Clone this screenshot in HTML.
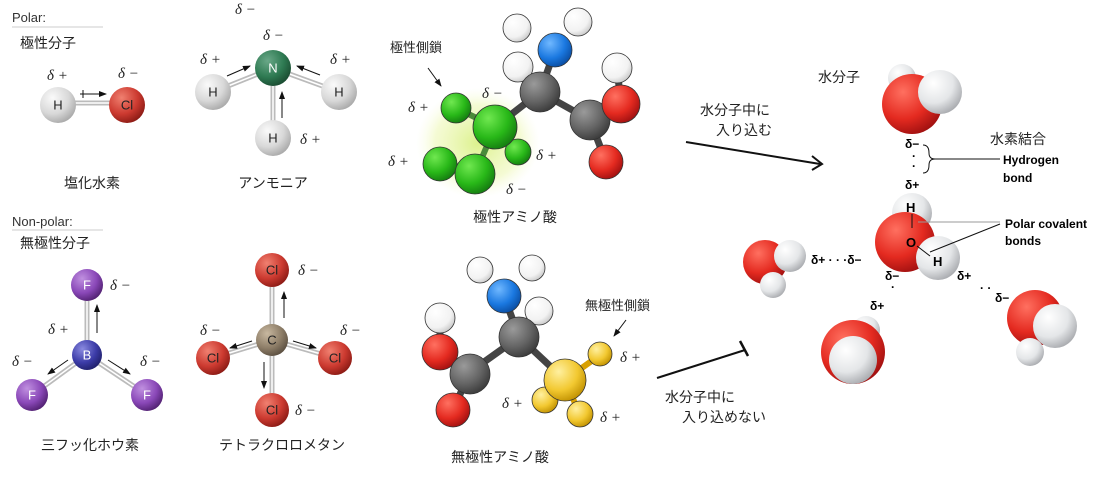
<!DOCTYPE html>
<html><head><meta charset="utf-8"><style>
html,body{margin:0;padding:0;background:#fff;width:1118px;height:484px;overflow:hidden}
svg text{font-family:"Liberation Sans","Noto Sans CJK JP",sans-serif}
.jp{font-size:14px;fill:#222}
.at{font-size:13px;fill:#222;text-anchor:middle;dominant-baseline:central}
.d{font-family:"Liberation Serif",serif !important;font-style:italic;font-size:15px;fill:#222}
.b{font-size:12px;font-weight:bold;fill:#000}
.aa circle{stroke:#333;stroke-width:0.8}
</style></head><body>
<svg width="1118" height="484" viewBox="0 0 1118 484" xmlns="http://www.w3.org/2000/svg">
<defs>
<radialGradient id="gH" cx="35%" cy="30%" r="75%"><stop offset="0" stop-color="#fafafa"/><stop offset="0.6" stop-color="#d8d8d8"/><stop offset="1" stop-color="#a8a8a8"/></radialGradient>
<radialGradient id="gR" cx="35%" cy="30%" r="75%"><stop offset="0" stop-color="#f08070"/><stop offset="0.6" stop-color="#cc3a30"/><stop offset="1" stop-color="#8a1a14"/></radialGradient>
<radialGradient id="gG" cx="35%" cy="30%" r="75%"><stop offset="0" stop-color="#6aa888"/><stop offset="0.6" stop-color="#2e7a52"/><stop offset="1" stop-color="#1a4a30"/></radialGradient>
<radialGradient id="gB" cx="35%" cy="30%" r="75%"><stop offset="0" stop-color="#8a8ae0"/><stop offset="0.6" stop-color="#3c3ca8"/><stop offset="1" stop-color="#20206a"/></radialGradient>
<radialGradient id="gP" cx="35%" cy="30%" r="75%"><stop offset="0" stop-color="#c090e0"/><stop offset="0.6" stop-color="#8a48b8"/><stop offset="1" stop-color="#502070"/></radialGradient>
<radialGradient id="gC" cx="35%" cy="30%" r="75%"><stop offset="0" stop-color="#c8b8a0"/><stop offset="0.6" stop-color="#8e7e68"/><stop offset="1" stop-color="#5a4e40"/></radialGradient>
<radialGradient id="gW" cx="35%" cy="30%" r="75%"><stop offset="0" stop-color="#ffffff"/><stop offset="0.7" stop-color="#f2f2f2"/><stop offset="1" stop-color="#c8c8c8"/></radialGradient>
<radialGradient id="gWW" cx="35%" cy="30%" r="75%"><stop offset="0" stop-color="#ffffff"/><stop offset="0.6" stop-color="#e4e6e8"/><stop offset="1" stop-color="#a8aaae"/></radialGradient>
<radialGradient id="gK" cx="35%" cy="30%" r="75%"><stop offset="0" stop-color="#9a9a9a"/><stop offset="0.6" stop-color="#646464"/><stop offset="1" stop-color="#3a3a3a"/></radialGradient>
<radialGradient id="gBl" cx="35%" cy="30%" r="75%"><stop offset="0" stop-color="#70b8ff"/><stop offset="0.6" stop-color="#1a78e0"/><stop offset="1" stop-color="#0a4ca0"/></radialGradient>
<radialGradient id="gY" cx="35%" cy="30%" r="75%"><stop offset="0" stop-color="#fff0a0"/><stop offset="0.6" stop-color="#f2c830"/><stop offset="1" stop-color="#c09000"/></radialGradient>
<radialGradient id="gLG" cx="35%" cy="30%" r="75%"><stop offset="0" stop-color="#70e850"/><stop offset="0.6" stop-color="#28b818"/><stop offset="1" stop-color="#147a10"/></radialGradient>
<radialGradient id="gRR" cx="35%" cy="30%" r="75%"><stop offset="0" stop-color="#ff7060"/><stop offset="0.6" stop-color="#e42a20"/><stop offset="1" stop-color="#a01010"/></radialGradient>
<radialGradient id="glow" cx="50%" cy="50%" r="50%"><stop offset="0" stop-color="#d8f080" stop-opacity="0.9"/><stop offset="0.7" stop-color="#eef8b8" stop-opacity="0.6"/><stop offset="1" stop-color="#f8fce0" stop-opacity="0"/></radialGradient>
<marker id="ah" markerWidth="8" markerHeight="8" refX="7" refY="4" orient="auto"><path d="M0,1 L8,4 L0,7z" fill="#111"/></marker>
</defs>

<!-- Polar heading -->
<text x="12" y="22" style="font-size:13px;fill:#333">Polar:</text>
<line x1="12" y1="27" x2="103" y2="27" stroke="#ccc"/>
<text x="20" y="48" class="jp">極性分子</text>

<!-- HCl -->
<line x1="60" y1="103" x2="125" y2="103" stroke="#bbb" stroke-width="5"/>
<line x1="60" y1="103" x2="125" y2="103" stroke="#fff" stroke-width="1.5"/>
<circle cx="58" cy="105" r="18" fill="url(#gH)"/><text x="58" y="105" class="at">H</text>
<circle cx="127" cy="105" r="18" fill="url(#gR)"/><text x="127" y="105" class="at">Cl</text>
<line x1="80" y1="94" x2="106" y2="94" stroke="#111" marker-end="url(#ah)"/>
<line x1="83" y1="90" x2="83" y2="98" stroke="#111"/>
<text x="47" y="80" class="d">δ +</text><text x="118" y="78" class="d">δ −</text>
<text x="92" y="188" class="jp" text-anchor="middle">塩化水素</text>

<!-- NH3 -->
<g stroke="#bbb" stroke-width="5"><line x1="213" y1="92" x2="273" y2="68"/><line x1="339" y1="92" x2="273" y2="68"/><line x1="273" y1="138" x2="273" y2="68"/></g>
<g stroke="#fff" stroke-width="1.5"><line x1="213" y1="92" x2="273" y2="68"/><line x1="339" y1="92" x2="273" y2="68"/><line x1="273" y1="138" x2="273" y2="68"/></g>
<circle cx="273" cy="68" r="18" fill="url(#gG)"/><text x="273" y="68" class="at" style="fill:#fff">N</text>
<circle cx="213" cy="92" r="18" fill="url(#gH)"/><text x="213" y="92" class="at">H</text>
<circle cx="339" cy="92" r="18" fill="url(#gH)"/><text x="339" y="92" class="at">H</text>
<circle cx="273" cy="138" r="18" fill="url(#gH)"/><text x="273" y="138" class="at">H</text>
<line x1="227" y1="76" x2="250" y2="66" stroke="#111" marker-end="url(#ah)"/>
<line x1="320" y1="75" x2="297" y2="66" stroke="#111" marker-end="url(#ah)"/>
<line x1="282" y1="118" x2="282" y2="92" stroke="#111" marker-end="url(#ah)"/>
<text x="235" y="14" class="d">δ −</text><text x="263" y="40" class="d">δ −</text>
<text x="200" y="64" class="d">δ +</text><text x="330" y="64" class="d">δ +</text><text x="300" y="144" class="d">δ +</text>
<text x="273" y="188" class="jp" text-anchor="middle">アンモニア</text>

<!-- Non-polar heading -->
<text x="12" y="226" style="font-size:13px;fill:#333">Non-polar:</text>
<line x1="12" y1="230" x2="103" y2="230" stroke="#ccc"/>
<text x="20" y="248" class="jp">無極性分子</text>

<!-- BF3 -->
<g stroke="#bbb" stroke-width="5"><line x1="87" y1="355" x2="87" y2="285"/><line x1="87" y1="355" x2="32" y2="395"/><line x1="87" y1="355" x2="147" y2="395"/></g>
<g stroke="#fff" stroke-width="1.5"><line x1="87" y1="355" x2="87" y2="285"/><line x1="87" y1="355" x2="32" y2="395"/><line x1="87" y1="355" x2="147" y2="395"/></g>
<circle cx="87" cy="285" r="16" fill="url(#gP)"/><text x="87" y="285" class="at" style="fill:#fff">F</text>
<circle cx="32" cy="395" r="16" fill="url(#gP)"/><text x="32" y="395" class="at" style="fill:#fff">F</text>
<circle cx="147" cy="395" r="16" fill="url(#gP)"/><text x="147" y="395" class="at" style="fill:#fff">F</text>
<circle cx="87" cy="355" r="15" fill="url(#gB)"/><text x="87" y="355" class="at" style="fill:#fff">B</text>
<line x1="97" y1="333" x2="97" y2="305" stroke="#111" marker-end="url(#ah)"/>
<line x1="68" y1="360" x2="48" y2="374" stroke="#111" marker-end="url(#ah)"/>
<line x1="108" y1="360" x2="130" y2="374" stroke="#111" marker-end="url(#ah)"/>
<text x="110" y="290" class="d">δ −</text><text x="48" y="334" class="d">δ +</text>
<text x="12" y="366" class="d">δ −</text><text x="140" y="366" class="d">δ −</text>
<text x="90" y="450" class="jp" text-anchor="middle">三フッ化ホウ素</text>

<!-- CCl4 -->
<g stroke="#bbb" stroke-width="5"><line x1="272" y1="340" x2="272" y2="270"/><line x1="272" y1="340" x2="213" y2="358"/><line x1="272" y1="340" x2="335" y2="358"/><line x1="272" y1="340" x2="272" y2="410"/></g>
<g stroke="#fff" stroke-width="1.5"><line x1="272" y1="340" x2="272" y2="270"/><line x1="272" y1="340" x2="213" y2="358"/><line x1="272" y1="340" x2="335" y2="358"/><line x1="272" y1="340" x2="272" y2="410"/></g>
<circle cx="272" cy="270" r="17" fill="url(#gR)"/><text x="272" y="270" class="at">Cl</text>
<circle cx="213" cy="358" r="17" fill="url(#gR)"/><text x="213" y="358" class="at">Cl</text>
<circle cx="335" cy="358" r="17" fill="url(#gR)"/><text x="335" y="358" class="at">Cl</text>
<circle cx="272" cy="410" r="17" fill="url(#gR)"/><text x="272" y="410" class="at">Cl</text>
<circle cx="272" cy="340" r="16" fill="url(#gC)"/><text x="272" y="340" class="at">C</text>
<line x1="284" y1="318" x2="284" y2="292" stroke="#111" marker-end="url(#ah)"/>
<line x1="252" y1="341" x2="230" y2="348" stroke="#111" marker-end="url(#ah)"/>
<line x1="293" y1="341" x2="316" y2="348" stroke="#111" marker-end="url(#ah)"/>
<line x1="264" y1="362" x2="264" y2="388" stroke="#111" marker-end="url(#ah)"/>
<text x="298" y="275" class="d">δ −</text><text x="200" y="335" class="d">δ −</text>
<text x="340" y="335" class="d">δ −</text><text x="295" y="415" class="d">δ −</text>
<text x="282" y="450" class="jp" text-anchor="middle">テトラクロロメタン</text>

<!-- Polar amino acid -->
<ellipse cx="478" cy="143" rx="62" ry="55" fill="url(#glow)"/>
<g stroke="#444" stroke-width="7"><line x1="540" y1="92" x2="555" y2="50"/><line x1="540" y1="92" x2="590" y2="120"/><line x1="540" y1="92" x2="495" y2="127"/><line x1="590" y1="120" x2="621" y2="104"/><line x1="590" y1="120" x2="606" y2="162"/><line x1="621" y1="104" x2="617" y2="68"/></g>
<g stroke="#4a8a3a" stroke-width="6"><line x1="495" y1="127" x2="456" y2="108"/><line x1="495" y1="127" x2="475" y2="174"/><line x1="475" y1="174" x2="440" y2="164"/><line x1="495" y1="127" x2="518" y2="152"/></g>
<g class="aa">
<circle cx="517" cy="28" r="14" fill="url(#gW)"/>
<circle cx="578" cy="22" r="14" fill="url(#gW)"/>
<circle cx="555" cy="50" r="17" fill="url(#gBl)"/>
<circle cx="518" cy="67" r="15" fill="url(#gW)"/>
<circle cx="540" cy="92" r="20" fill="url(#gK)"/>
<circle cx="617" cy="68" r="15" fill="url(#gW)"/>
<circle cx="590" cy="120" r="20" fill="url(#gK)"/>
<circle cx="621" cy="104" r="19" fill="url(#gRR)"/>
<circle cx="606" cy="162" r="17" fill="url(#gRR)"/>
<circle cx="518" cy="152" r="13" fill="url(#gLG)"/>
<circle cx="456" cy="108" r="15" fill="url(#gLG)"/>
<circle cx="495" cy="127" r="22" fill="url(#gLG)"/>
<circle cx="440" cy="164" r="17" fill="url(#gLG)"/>
<circle cx="475" cy="174" r="20" fill="url(#gLG)"/>
</g>
<text x="390" y="52" class="jp" style="font-size:13px">極性側鎖</text>
<line x1="428" y1="68" x2="441" y2="86" stroke="#111" marker-end="url(#ah)"/>
<text x="408" y="112" class="d">δ +</text><text x="482" y="98" class="d">δ −</text>
<text x="388" y="166" class="d">δ +</text><text x="536" y="160" class="d">δ +</text><text x="506" y="194" class="d">δ −</text>
<text x="515" y="222" class="jp" text-anchor="middle">極性アミノ酸</text>

<!-- Nonpolar amino acid -->
<g stroke="#444" stroke-width="7"><line x1="519" y1="337" x2="504" y2="296"/><line x1="519" y1="337" x2="470" y2="372"/><line x1="519" y1="337" x2="565" y2="380"/><line x1="470" y1="372" x2="440" y2="352"/><line x1="470" y1="372" x2="453" y2="410"/><line x1="440" y1="352" x2="440" y2="315"/></g>
<g stroke="#d8a000" stroke-width="6"><line x1="565" y1="380" x2="600" y2="355"/><line x1="565" y1="380" x2="580" y2="415"/><line x1="565" y1="380" x2="545" y2="400"/></g>
<g class="aa">
<circle cx="480" cy="270" r="13" fill="url(#gW)"/>
<circle cx="532" cy="268" r="13" fill="url(#gW)"/>
<circle cx="504" cy="296" r="17" fill="url(#gBl)"/>
<circle cx="539" cy="311" r="14" fill="url(#gW)"/>
<circle cx="440" cy="318" r="15" fill="url(#gW)"/>
<circle cx="519" cy="337" r="20" fill="url(#gK)"/>
<circle cx="440" cy="352" r="18" fill="url(#gRR)"/>
<circle cx="470" cy="374" r="20" fill="url(#gK)"/>
<circle cx="453" cy="410" r="17" fill="url(#gRR)"/>
<circle cx="545" cy="400" r="13" fill="url(#gY)"/>
<circle cx="600" cy="354" r="12" fill="url(#gY)"/>
<circle cx="565" cy="380" r="21" fill="url(#gY)"/>
<circle cx="580" cy="414" r="13" fill="url(#gY)"/>
</g>
<text x="585" y="310" class="jp" style="font-size:13px">無極性側鎖</text>
<line x1="626" y1="320" x2="614" y2="336" stroke="#111" marker-end="url(#ah)"/>
<text x="620" y="362" class="d">δ +</text><text x="502" y="408" class="d">δ +</text><text x="600" y="422" class="d">δ +</text>
<text x="500" y="462" class="jp" text-anchor="middle">無極性アミノ酸</text>

<!-- arrows -->
<text x="700" y="115" class="jp">水分子中に</text><text x="716" y="135" class="jp">入り込む</text>
<line x1="686" y1="142" x2="820" y2="164" stroke="#111" stroke-width="2"/>
<path d="M812,156 L822,164 L812,170" fill="none" stroke="#111" stroke-width="2"/>
<line x1="657" y1="378" x2="745" y2="350" stroke="#111" stroke-width="2"/>
<line x1="740" y1="341" x2="748" y2="356" stroke="#111" stroke-width="2.5"/>
<text x="665" y="402" class="jp">水分子中に</text><text x="682" y="422" class="jp">入り込めない</text>

<!-- Water -->
<text x="818" y="82" class="jp">水分子</text>
<circle cx="902" cy="78" r="14" fill="url(#gWW)"/>
<circle cx="912" cy="104" r="30" fill="url(#gRR)"/>
<circle cx="940" cy="92" r="22" fill="url(#gWW)"/>
<text x="905" y="148" class="b">δ−</text>
<text x="912" y="160" class="b">·</text><text x="912" y="170" class="b">·</text>
<path d="M923,145 q6,0 6,8 q0,6 6,6 q-6,0 -6,6 q0,8 -6,8" fill="none" stroke="#111"/>
<line x1="935" y1="159" x2="1000" y2="159" stroke="#111"/>
<text x="1003" y="164" class="b">Hydrogen</text><text x="1003" y="182" class="b">bond</text>
<text x="905" y="189" class="b">δ+</text>
<text x="990" y="144" class="jp">水素結合</text>

<circle cx="912" cy="213" r="20" fill="url(#gWW)"/>
<circle cx="905" cy="242" r="30" fill="url(#gRR)"/>
<circle cx="938" cy="258" r="22" fill="url(#gWW)"/>
<text x="906" y="212" class="b" style="font-size:13px">H</text>
<line x1="912" y1="214" x2="912" y2="228" stroke="#111"/>
<text x="906" y="247" class="b" style="font-size:13px">O</text>
<line x1="917" y1="246" x2="930" y2="256" stroke="#111"/>
<text x="933" y="266" class="b" style="font-size:13px">H</text>
<line x1="918" y1="222" x2="1000" y2="222" stroke="#999"/>
<line x1="930" y1="252" x2="1000" y2="224" stroke="#111"/>
<text x="1005" y="228" class="b">Polar covalent</text><text x="1005" y="245" class="b">bonds</text>

<circle cx="765" cy="262" r="22" fill="url(#gRR)"/>
<circle cx="790" cy="256" r="16" fill="url(#gWW)"/>
<circle cx="773" cy="285" r="13" fill="url(#gWW)"/>
<text x="811" y="264" class="b">δ+ · · ·δ−</text>

<circle cx="866" cy="330" r="14" fill="url(#gWW)"/>
<circle cx="853" cy="352" r="32" fill="url(#gRR)"/>
<circle cx="853" cy="360" r="24" fill="url(#gWW)"/>
<text x="885" y="280" class="b">δ−</text><text x="891" y="291" class="b">·</text>
<text x="870" y="310" class="b">δ+</text>

<circle cx="1035" cy="318" r="28" fill="url(#gRR)"/>
<circle cx="1055" cy="326" r="22" fill="url(#gWW)"/>
<circle cx="1030" cy="352" r="14" fill="url(#gWW)"/>
<text x="957" y="280" class="b">δ+</text>
<text x="980" y="292" class="b">· ·</text>
<text x="995" y="302" class="b">δ−</text>
</svg>
</body></html>
